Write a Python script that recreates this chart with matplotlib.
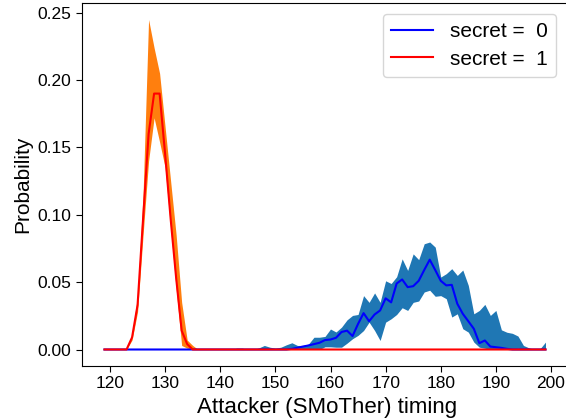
import numpy as np
import matplotlib
matplotlib.use("Agg")
import matplotlib.pyplot as plt

plt.rcParams["font.family"] = ["Liberation Sans", "DejaVu Sans"]

# attacker timing bins
timing = np.arange(119, 200)

# secret = 1 (values start at t=123)
s1_start = 123
s1_mean = [0, .009, .033, .097, .16, .19, .19, .145, .097, .053, .014, .004, 0]
s1_upper = [0, .011, .04, .115, .245, .224, .205, .165, .125, .085, .035, .007, .003]
s1_lower = [0, .007, .028, .085, .14, .172, .154, .135, .09, .045, .003, .001, 0]

# secret = 0
s0_mean_start = 153
s0_mean = [.0005, .0013, .0022, .003, .004, .005, .007, .0074, .0087, .013,
           .014, .010, .019, .027, .021, .026, .029, .038, .035, .049,
           .052, .0463, .047, .051, .059, .0667, .059, .051, .0476, .048,
           .034, .0265, .021, .0154, .0047, .0067, .0022, .0017, .0012, .0005]
s0_upper_start = 143
s0_upper = [.001, .001, 0, 0, .0012, .003, .0017, .001, .0017, .0035,
            .005, .003, .003, .004, .0091, .0091, .0097, .0152, .013, .0166,
            .022, .0253, .026, .040, .035, .042, .035, .051, .049, .054,
            .0673, .0587, .071, .0667, .0785, .0798, .076, .0538, .0563, .06,
            .055, .059, .0476, .0265, .029, .0335, .0253, .029, .0146, .0128,
            .012, .010, .003, .0012, .0002, .0005, .0055]
s0_lower_start = 159
s0_lower = [.002, .002, .0017, .0017, .0047, .008, .0105, .0141, .0203, .0141,
            .0067, .0203, .0228, .026, .031, .029, .035, .036, .0427, .044,
            .0395, .040, .0377, .0241, .0265, .0154, .0129, .0055, .0017, .001]

# tiny orange blip near the end
s1_extra = {194: .001}


def pad(start, vals):
    out = np.zeros(len(timing))
    i = start - timing[0]
    out[i:i + len(vals)] = vals
    return out


m1 = pad(s1_start, s1_mean)
u1 = pad(s1_start, s1_upper)
l1 = pad(s1_start, s1_lower)
for t, v in s1_extra.items():
    u1[t - timing[0]] = v

m0 = pad(s0_mean_start, s0_mean)
u0 = pad(s0_upper_start, s0_upper)
l0 = pad(s0_lower_start, s0_lower)

fig = plt.figure(figsize=(5.66, 4.19), dpi=100)
# right edge of the axes falls just outside the image, like the original crop
ax = fig.add_axes([82 / 566, 1 - 366 / 419, (572 - 82) / 566, (366 - 3) / 419])

ax.fill_between(timing, l0, u0, color="#1f77b4", linewidth=0)
ax.fill_between(timing, l1, u1, color="#ff7f0e", linewidth=0)
ax.plot(timing, m0, color="blue", linewidth=1.5, label="secret =  0")
ax.plot(timing, m1, color="red", linewidth=1.5, label="secret =  1")

ax.set_xlim(120 - 28 / 5.5125, 200 + 21 / 5.5125)
ax.set_ylim(-0.01225, 0.25725)
ax.set_xticks(range(120, 201, 10))
ax.set_yticks([0, .05, .10, .15, .20, .25])
ax.yaxis.set_major_formatter(matplotlib.ticker.FormatStrFormatter("%.2f"))
ax.tick_params(labelsize=12.5, length=4)
ax.set_xlabel("Attacker (SMoTher) timing", fontsize=16)
ax.set_ylabel("Probability", fontsize=15)
leg = ax.legend(fontsize=15, labelspacing=0.4, loc="upper right",
                bbox_to_anchor=(556 / 566, 1 - 14 / 419),
                bbox_transform=fig.transFigure, borderaxespad=0)

fig.savefig("out.png", dpi=100)
